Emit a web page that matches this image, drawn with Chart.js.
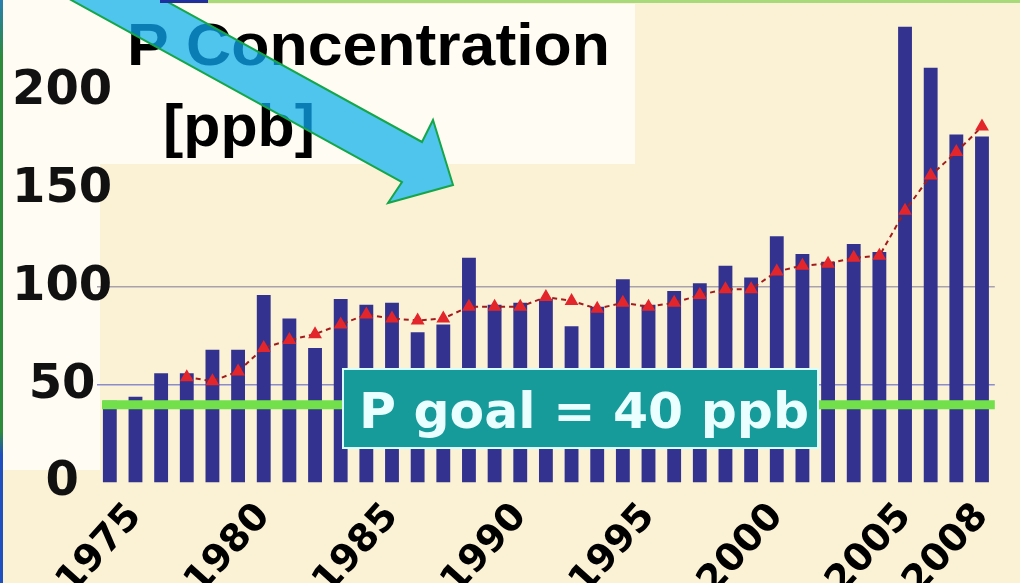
<!DOCTYPE html>
<html>
<head>
<meta charset="utf-8">
<script src="https://cdn.jsdelivr.net/npm/chart.js@4.4.0/dist/chart.umd.min.js"></script>
<style>
  html, body { margin: 0; padding: 0; overflow: hidden; background: #fbf2d6; }
  #wrap { width: 1020px; height: 583px; position: relative; }
</style>
</head>
<body>
<div id="wrap"><canvas id="pChart"></canvas></div>
<script>
// yearly P concentration [ppb]
const years = [1974, 1975, 1976, 1977, 1978, 1979, 1980, 1981, 1982, 1983, 1984, 1985,
  1986, 1987, 1988, 1989, 1990, 1991, 1992, 1993, 1994, 1995, 1996, 1997, 1998,
  1999, 2000, 2001, 2002, 2003, 2004, 2005, 2006, 2007, 2008];
const concentration = [42, 44, 56, 56, 68, 68, 96, 84, 69, 94, 91, 92,
  77, 81, 115, 91, 92, 94, 80, 90, 104, 91, 98, 102, 111,
  105, 126, 117, 113, 122, 118, 233, 212, 178, 177];
// running mean (red dashed line)
const runningMean = [null, null, null, 54, 52, 57, 69, 73, 76, 81, 86, 84,
  83, 84, 90, 90, 90, 95, 93, 89, 92, 90, 92, 96, 99,
  99, 108, 111, 112, 115, 116, 139, 157, 169, 182];
const tickYears = [1975, 1980, 1985, 1990, 1995, 2000, 2005, 2008];
const yTicks = [0, 50, 100, 150, 200];
const goalValue = 40;

const FONT = 'DejaVu Sans';

function fitText(ctx, text, x, y, width) {
  const w = ctx.measureText(text).width;
  ctx.save();
  ctx.translate(x, y);
  ctx.scale(width / w, 1);
  ctx.fillText(text, 0, 0);
  ctx.restore();
}

function arrowPath(ctx) {
  ctx.beginPath();
  ctx.moveTo(146, -10);
  ctx.lineTo(422, 142);
  ctx.lineTo(433, 120);
  ctx.lineTo(453, 185);
  ctx.lineTo(388, 203);
  ctx.lineTo(402, 182);
  ctx.lineTo(53, -10);
  ctx.closePath();
}

function drawTitle(ctx, color) {
  ctx.fillStyle = color;
  ctx.textAlign = 'left';
  ctx.textBaseline = 'alphabetic';
  ctx.font = 'bold 60px "Liberation Sans"';
  fitText(ctx, 'P Concentration', 127, 65, 483);
  fitText(ctx, '[ppb]', 163, 146, 152);
}

const decor = {
  id: 'decor',
  beforeDraw(chart) {
    const ctx = chart.ctx;
    ctx.save();
    ctx.fillStyle = '#fbf2d6';
    ctx.fillRect(0, 0, chart.width, chart.height);
    ctx.fillStyle = 'rgba(255,253,246,0.9)';
    ctx.fillRect(0, 0, 100, 470);
    ctx.fillRect(100, 4, 535, 160);
    ctx.restore();
  },
  afterDraw(chart) {
    const ctx = chart.ctx;
    const area = chart.chartArea;
    const yGoal = chart.scales.y.getPixelForValue(goalValue);
    ctx.save();

    // goal line
    ctx.strokeStyle = '#72e04a';
    ctx.lineWidth = 9;
    ctx.beginPath();
    ctx.moveTo(area.left + 5, yGoal);
    ctx.lineTo(area.right, yGoal);
    ctx.stroke();

    // goal label box
    ctx.fillStyle = '#179a9a';
    ctx.fillRect(343, 369, 475, 79);
    ctx.strokeStyle = '#d8ffff';
    ctx.lineWidth = 2;
    ctx.strokeRect(343, 369, 475, 79);
    ctx.fillStyle = '#eaffff';
    ctx.font = 'bold 50px ' + FONT;
    ctx.textBaseline = 'alphabetic';
    fitText(ctx, 'P goal = 40 ppb', 359, 428, 450);

    // title + arrow
    drawTitle(ctx, '#000');
    arrowPath(ctx);
    ctx.fillStyle = '#4fc5ee';
    ctx.fill();
    ctx.save();
    arrowPath(ctx);
    ctx.clip();
    drawTitle(ctx, '#0a7db4');
    ctx.restore();
    arrowPath(ctx);
    ctx.strokeStyle = '#16a64a';
    ctx.lineWidth = 2;
    ctx.stroke();

    // slide frame
    ctx.fillStyle = '#a8da7c';
    ctx.fillRect(208, 0, chart.width - 208, 3);
    ctx.fillStyle = '#1f2f9e';
    ctx.fillRect(160, 0, 48, 3);
    const g = ctx.createLinearGradient(0, 0, 0, chart.height);
    g.addColorStop(0, '#2a7fb0');
    g.addColorStop(0.1, '#2c8c3a');
    g.addColorStop(0.74, '#2c8c3a');
    g.addColorStop(0.78, '#2050c0');
    g.addColorStop(1, '#2050c0');
    ctx.fillStyle = g;
    ctx.fillRect(0, 0, 3, chart.height);
    ctx.restore();
  }
};

const ctx = document.getElementById('pChart').getContext('2d');

new Chart(ctx, {
  data: {
    labels: years,
    datasets: [
      {
        type: 'line',
        label: 'Running mean',
        data: runningMean,
        borderColor: '#a31c1c',
        borderWidth: 2,
        borderDash: [5, 4],
        pointStyle: 'triangle',
        pointRadius: 6,
        pointBackgroundColor: '#e3262b',
        pointBorderColor: '#e3262b',
        spanGaps: false,
        order: 0
      },
      {
        type: 'bar',
        label: 'P concentration',
        data: concentration,
        backgroundColor: '#33338f',
        categoryPercentage: 1,
        barPercentage: 0.54,
        order: 1
      }
    ]
  },
  options: {
    responsive: true,
    maintainAspectRatio: false,
    animation: false,
    layout: { padding: { top: 13, right: 9, left: 0, bottom: 0 } },
    plugins: {
      legend: { display: false },
      tooltip: { enabled: false }
    },
    scales: {
      x: {
        offset: true,
        grid: { display: false },
        border: { display: false },
        ticks: {
          autoSkip: false,
          minRotation: 48,
          maxRotation: 48,
          padding: 4,
          color: '#000',
          font: { family: FONT, size: 38, weight: 'bold' },
          callback: function(value, index) {
            return tickYears.includes(years[index]) ? String(years[index]) : '';
          }
        },
        afterFit: function(scale) { scale.height = 100; }
      },
      y: {
        min: 0,
        max: 240,
        border: { display: false },
        afterBuildTicks: function(scale) {
          scale.ticks = yTicks.map(v => ({ value: v }));
        },
        afterFit: function(scale) { scale.width = 97; },
        grid: {
          drawTicks: false,
          lineWidth: 1.5,
          color: function(c) {
            if (c.tick && c.tick.value === 50) return '#8c8ccc';
            if (c.tick && c.tick.value === 100) return '#aaa2aa';
            return 'rgba(0,0,0,0)';
          }
        },
        ticks: {
          mirror: true,
          crossAlign: 'center',
          padding: -85,
          color: '#111',
          font: { family: FONT, size: 48, weight: 'bold' }
        }
      }
    }
  },
  plugins: [decor]
});
</script>
</body>
</html>
